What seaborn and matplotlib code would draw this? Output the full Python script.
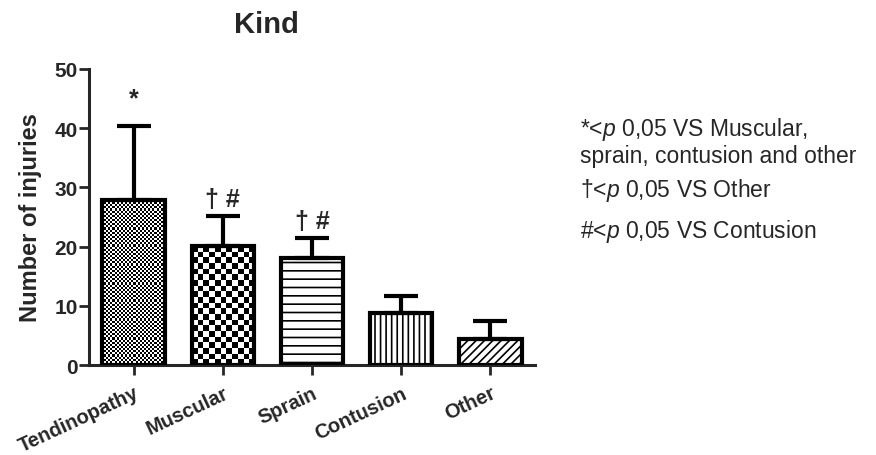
import numpy as np
import pandas as pd
import matplotlib
matplotlib.use("Agg")
import matplotlib.pyplot as plt
import seaborn as sns

# ---- data ----
categories = ["Tendinopathy", "Muscular", "Sprain", "Contusion", "Other"]
means = [27.8, 20.1, 18.0, 8.7, 4.4]
errors = [12.5, 5.1, 3.5, 3.0, 3.0]
sig_marks = ["*", "† #", "† #", "", ""]
sig_y = [45.0, 28.0, 24.3, 0, 0]
y_ticks = [0, 10, 20, 30, 40, 50]
notes = [
    "*<$\\it{p}$ 0,05 VS Muscular,\nsprain, contusion and other",
    "†<$\\it{p}$ 0,05 VS Other",
    "#<$\\it{p}$ 0,05 VS Contusion",
]

sns.set_style("ticks")
plt.rcParams["font.family"] = ["Liberation Sans", "DejaVu Sans"]
plt.rcParams["mathtext.fontset"] = "custom"
plt.rcParams["mathtext.it"] = "Liberation Sans:italic"
plt.rcParams["mathtext.rm"] = "Liberation Sans"
plt.rcParams["hatch.linewidth"] = 1.2

df = pd.DataFrame({"kind": categories, "injuries": means})

W, H = 876, 456
fig = plt.figure(figsize=(W / 100, H / 100), dpi=100)
ax = fig.add_axes([89 / W, 1 - 366 / H, (535 - 89) / W, (366 - 70) / H])

sns.barplot(data=df, x="kind", y="injuries", order=categories, color="white",
            saturation=1, edgecolor="black", linewidth=3, width=0.7,
            errorbar=None, ax=ax)

ax.set_xlim(-0.5, 4.5)
ax.set_ylim(0, 50)
ax.set_yticks(y_ticks)

ax.errorbar(np.arange(len(categories)), means,
            yerr=[np.zeros(len(errors)), errors], fmt="none", ecolor="black",
            elinewidth=3, capsize=12, capthick=3, zorder=4)

# fill patterns
hatches = [None, None, "--", "|||", "////"]
checker_px = [2.1, 5.6, None, None, None]
for p, h, a in zip(ax.patches, hatches, checker_px):
    p.set_zorder(3)
    if h:
        p.set_hatch(h)
    if a:
        x0, y0 = p.get_x(), p.get_y()
        w, hh = p.get_width(), p.get_height()
        (px0, py0), (px1, py1) = ax.transData.transform([(x0, y0), (x0 + w, y0 + hh)])
        nc = max(1, int(round(abs(px1 - px0) / a)))
        nr = max(1, int(round(abs(py1 - py0) / a)))
        arr = np.indices((nr, nc)).sum(0) % 2
        im = ax.imshow(arr, cmap="gray", vmin=0, vmax=1, extent=(x0, x0 + w, y0, y0 + hh),
                       interpolation="nearest", aspect="auto", zorder=2.5)
        im.set_clip_path(p)
        p.set_facecolor("none")

ax.set_xlim(-0.5, 4.5)
ax.set_ylim(0, 50)

for i, (m, yy) in enumerate(zip(sig_marks, sig_y)):
    if m:
        ax.text(i, yy, m, ha="center", va="center", fontsize=18, fontweight="bold")

sns.despine(ax=ax)
for s in ["left", "bottom"]:
    ax.spines[s].set_linewidth(2.2)
ax.tick_params(axis="both", width=2, length=7, labelsize=15)
ax.tick_params(axis="y", pad=1)
for lab in ax.get_yticklabels():
    lab.set_fontweight("bold")
ax.set_xticks(range(len(categories)))
ax.set_xticklabels(categories, rotation=25, ha="right", va="top",
                   rotation_mode="anchor", fontweight="bold", fontsize=14.5)
ax.tick_params(axis="x", pad=6)

ax.set_xlabel("")
ax.set_ylabel("Number of injuries", fontsize=17, fontweight="bold")
ax.yaxis.set_label_coords(-0.105, 0.5)

fig.text(266 / W, 1 - 25 / H, "Kind", ha="center", va="center", fontsize=21, fontweight="bold")

fig.text(580 / W, 1 - 142 / H, notes[0], ha="left", va="center", fontsize=16.5, linespacing=1.1)
fig.text(580 / W, 1 - 190 / H, notes[1], ha="left", va="center", fontsize=16.5)
fig.text(580 / W, 1 - 232 / H, notes[2], ha="left", va="center", fontsize=16.5)

fig.savefig("out.png", dpi=100)
